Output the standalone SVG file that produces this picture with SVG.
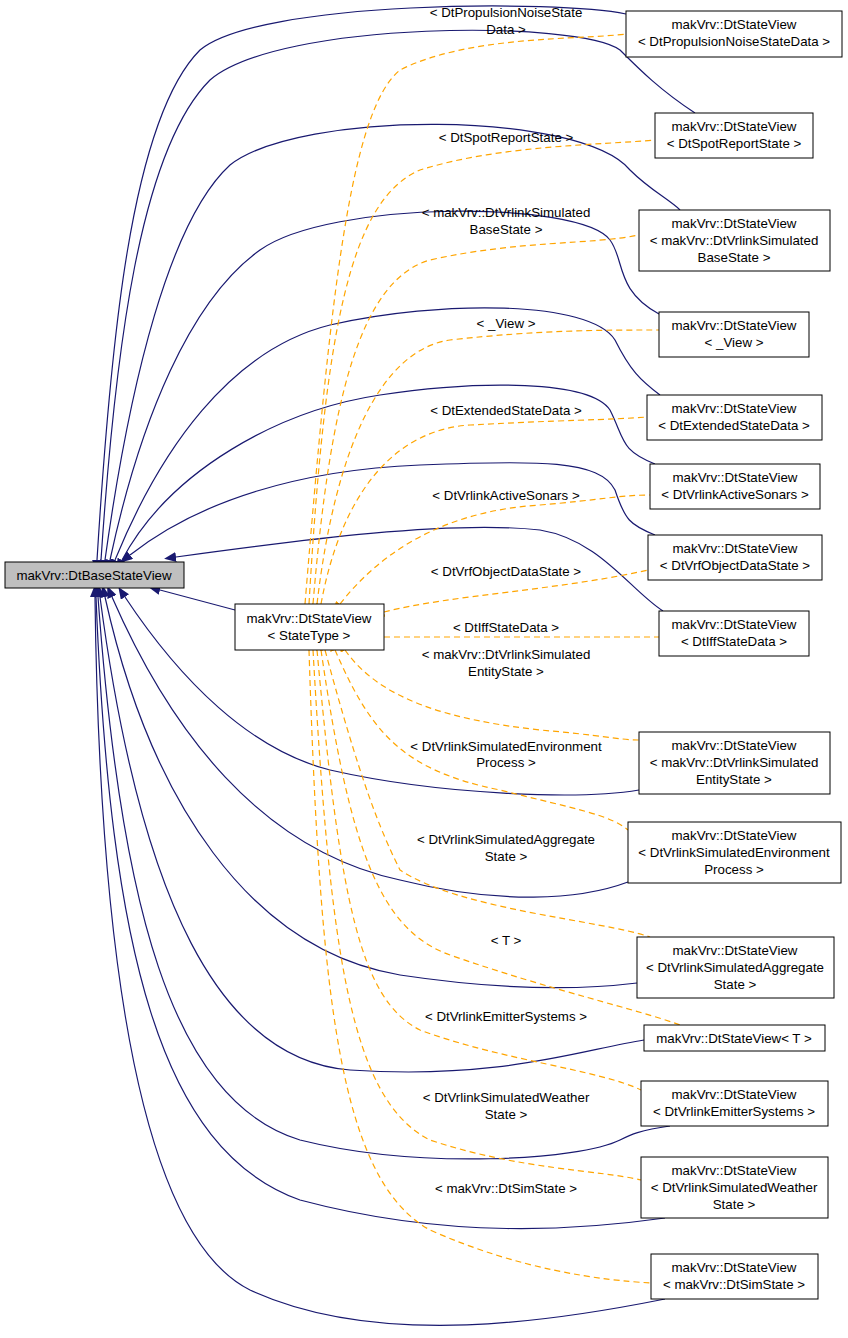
<svg xmlns="http://www.w3.org/2000/svg" width="848" height="1338" viewBox="0 0 848 1338">
<style>
text{font-family:"Liberation Sans",Arial,sans-serif;font-size:13.3px;fill:#000;text-anchor:middle}
.n rect{fill:#fff;stroke:#000;stroke-width:1}
.b{fill:none;stroke:#191970;stroke-width:1.2;marker-start:url(#ab)}
.o{fill:none;stroke:#ffa500;stroke-width:1.2;stroke-dasharray:6,4;marker-start:url(#ao)}
</style>
<defs>
<marker id="ab" viewBox="0 0 12 10" refX="0" refY="5" markerWidth="12" markerHeight="10" markerUnits="userSpaceOnUse" orient="auto-start-reverse"><path d="M12,0 L0,5 L12,10 z" fill="#191970" transform="scale(-1,1) translate(-12,0)"/></marker>
<marker id="ao" viewBox="0 0 12 10" refX="0" refY="5" markerWidth="12" markerHeight="10" markerUnits="userSpaceOnUse" orient="auto-start-reverse"><path d="M12,0 L0,5 L12,10 z" fill="#ffa500" transform="scale(-1,1) translate(-12,0)"/></marker>
</defs>
<rect width="848" height="1338" fill="#fff"/>
<g id="connectors">
<path class="b" d="M97,560 C110,350 130,120 200,50 C260,0 560,0 626,14"/>
<path class="b" d="M101,560 C115,350 140,150 210,80 C280,20 580,20 620,50 C640,70 660,90 695,113"/>
<path class="b" d="M105,560 C130,380 170,220 230,165 C300,110 580,110 630,170 C650,190 670,200 680,210"/>
<path class="b" d="M110,560 C140,420 190,300 260,250 C330,200 580,200 610,240 C625,260 615,290 659,314"/>
<path class="b" d="M115,560 C160,450 230,350 330,325 C440,300 590,300 615,340 C630,370 640,380 660,395"/>
<path class="b" d="M122,560 C170,470 280,410 380,395 C480,380 590,380 610,410 C625,440 620,450 655,464"/>
<path class="b" d="M130,555 C200,500 300,470 420,465 C540,460 600,460 615,490 C625,520 630,525 655,535"/>
<path class="b" d="M176,557 C300,540 450,520 540,530 C600,540 630,590 663,611"/>
<path class="b" d="M160,590 L235,610"/>
<path class="b" d="M125,597 C180,680 250,750 330,770 C440,795 580,800 639,790"/>
<path class="b" d="M112,597 C170,730 260,850 400,880 C500,905 580,900 628,882"/>
<path class="b" d="M105,597 C150,800 250,950 400,975 C500,990 580,990 637,983"/>
<path class="b" d="M100,597 C140,900 220,1060 350,1070 C500,1080 580,1050 644,1040"/>
<path class="b" d="M98,597 C120,900 170,1100 300,1140 C420,1170 580,1160 620,1140 C630,1135 640,1130 670,1126"/>
<path class="b" d="M96,597 C110,950 160,1150 300,1200 C450,1240 580,1230 665,1218"/>
<path class="b" d="M95,597 C100,1000 150,1240 250,1290 C380,1350 560,1320 665,1299"/>
<path class="o" d="M305,604 C330,300 350,110 400,70 C470,35 580,40 626,34"/>
<path class="o" d="M309,604 C325,330 350,200 420,170 C500,145 600,145 655,140"/>
<path class="o" d="M313,604 C330,400 360,280 430,260 C520,240 590,245 639,235"/>
<path class="o" d="M317,604 C335,450 380,350 450,340 C540,330 600,330 659,330"/>
<path class="o" d="M321,604 C340,500 390,430 470,425 C560,420 610,420 647,417"/>
<path class="o" d="M340,604 C390,540 460,510 540,505 C600,500 620,495 650,495"/>
<path class="o" d="M384,612 C450,595 560,590 648,570"/>
<path class="o" d="M384,637 L659,637"/>
<path class="o" d="M345,650 C380,700 450,720 540,730 C600,735 620,740 639,740"/>
<path class="o" d="M335,650 C370,730 400,770 500,790 C580,810 610,815 628,830"/>
<path class="o" d="M325,650 C360,780 380,830 400,870 C460,910 600,920 650,937"/>
<path class="o" d="M321,650 C350,850 380,930 450,955 C550,990 640,1010 680,1025"/>
<path class="o" d="M317,650 C340,900 360,1000 420,1030 C500,1060 600,1070 641,1090"/>
<path class="o" d="M313,650 C330,950 350,1100 430,1140 C520,1170 600,1170 641,1180"/>
<path class="o" d="M309,650 C320,1000 340,1180 430,1230 C520,1270 600,1280 651,1283"/>
<text x="506" y="17">&lt; DtPropulsionNoiseState</text><text x="506" y="34">Data &gt;</text>
<text x="506" y="142">&lt; DtSpotReportState &gt;</text>
<text x="506" y="217">&lt; makVrv::DtVrlinkSimulated</text><text x="506" y="234">BaseState &gt;</text>
<text x="506" y="328">&lt; _View &gt;</text>
<text x="506" y="415">&lt; DtExtendedStateData &gt;</text>
<text x="506" y="500">&lt; DtVrlinkActiveSonars &gt;</text>
<text x="506" y="576">&lt; DtVrfObjectDataState &gt;</text>
<text x="506" y="632">&lt; DtIffStateData &gt;</text>
<text x="506" y="659">&lt; makVrv::DtVrlinkSimulated</text><text x="506" y="676">EntityState &gt;</text>
<text x="506" y="751">&lt; DtVrlinkSimulatedEnvironment</text><text x="506" y="767">Process &gt;</text>
<text x="506" y="844">&lt; DtVrlinkSimulatedAggregate</text><text x="506" y="861">State &gt;</text>
<text x="506" y="945">&lt; T &gt;</text>
<text x="506" y="1021">&lt; DtVrlinkEmitterSystems &gt;</text>
<text x="506" y="1102">&lt; DtVrlinkSimulatedWeather</text><text x="506" y="1119">State &gt;</text>
<text x="506" y="1193">&lt; makVrv::DtSimState &gt;</text>
</g>
<g id="base" class="n"><rect x="5" y="562" width="179" height="26" style="fill:#bfbfbf"/><text x="94" y="580">makVrv::DtBaseStateView</text></g>
<g id="statetype" class="n"><rect x="235" y="604" width="149" height="46"/><text x="309" y="623">makVrv::DtStateView</text><text x="309" y="640">&lt; StateType &gt;</text></g>
<g id="n1" class="n"><rect x="626" y="11" width="216" height="46"/><text x="734" y="29">makVrv::DtStateView</text><text x="734" y="46">&lt; DtPropulsionNoiseStateData &gt;</text></g>
<g id="n2" class="n"><rect x="655" y="113" width="158" height="45"/><text x="734" y="131">makVrv::DtStateView</text><text x="734" y="148">&lt; DtSpotReportState &gt;</text></g>
<g id="n3" class="n"><rect x="639" y="210" width="191" height="61"/><text x="734" y="228">makVrv::DtStateView</text><text x="734" y="245">&lt; makVrv::DtVrlinkSimulated</text><text x="734" y="262">BaseState &gt;</text></g>
<g id="n4" class="n"><rect x="659" y="312" width="150" height="45"/><text x="734" y="330">makVrv::DtStateView</text><text x="734" y="347">&lt; _View &gt;</text></g>
<g id="n5" class="n"><rect x="647" y="395" width="175" height="45"/><text x="734" y="413">makVrv::DtStateView</text><text x="734" y="430">&lt; DtExtendedStateData &gt;</text></g>
<g id="n6" class="n"><rect x="650" y="464" width="170" height="45"/><text x="735" y="482">makVrv::DtStateView</text><text x="735" y="499">&lt; DtVrlinkActiveSonars &gt;</text></g>
<g id="n7" class="n"><rect x="648" y="535" width="174" height="45"/><text x="735" y="553">makVrv::DtStateView</text><text x="735" y="570">&lt; DtVrfObjectDataState &gt;</text></g>
<g id="n8" class="n"><rect x="659" y="611" width="150" height="45"/><text x="734" y="629">makVrv::DtStateView</text><text x="734" y="646">&lt; DtIffStateData &gt;</text></g>
<g id="n9" class="n"><rect x="639" y="732" width="191" height="62"/><text x="734" y="750">makVrv::DtStateView</text><text x="734" y="767">&lt; makVrv::DtVrlinkSimulated</text><text x="734" y="784">EntityState &gt;</text></g>
<g id="n10" class="n"><rect x="628" y="822" width="213" height="61"/><text x="734" y="840">makVrv::DtStateView</text><text x="734" y="857">&lt; DtVrlinkSimulatedEnvironment</text><text x="734" y="874">Process &gt;</text></g>
<g id="n11" class="n"><rect x="637" y="937" width="197" height="61"/><text x="735" y="955">makVrv::DtStateView</text><text x="735" y="972">&lt; DtVrlinkSimulatedAggregate</text><text x="735" y="989">State &gt;</text></g>
<g id="n12" class="n"><rect x="644" y="1025" width="181" height="26"/><text x="734" y="1043">makVrv::DtStateView&lt; T &gt;</text></g>
<g id="n13" class="n"><rect x="641" y="1081" width="187" height="45"/><text x="734" y="1099">makVrv::DtStateView</text><text x="734" y="1116">&lt; DtVrlinkEmitterSystems &gt;</text></g>
<g id="n14" class="n"><rect x="641" y="1157" width="187" height="61"/><text x="734" y="1175">makVrv::DtStateView</text><text x="734" y="1192">&lt; DtVrlinkSimulatedWeather</text><text x="734" y="1209">State &gt;</text></g>
<g id="n15" class="n"><rect x="651" y="1254" width="167" height="45"/><text x="734" y="1272">makVrv::DtStateView</text><text x="734" y="1289">&lt; makVrv::DtSimState &gt;</text></g>
</svg>
